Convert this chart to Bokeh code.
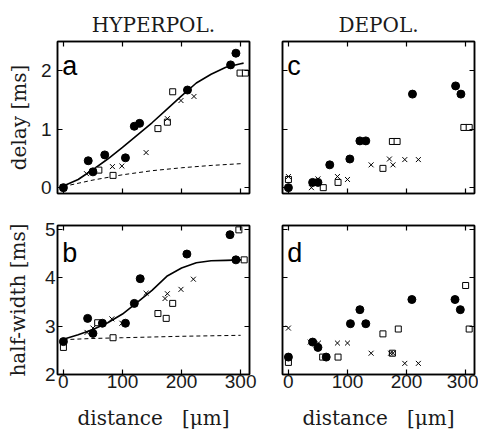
from bokeh.plotting import figure
from bokeh.models import FixedTicker, LinearAxis, Range1d, Label, CustomJSTickFormatter
from bokeh.layouts import column, row
from bokeh.embed import file_html
from bokeh.resources import INLINE

# ---------------- data ----------------
x_ticks = [0, 100, 200, 300]
delay_ticks = [0, 1, 2]
hw_ticks = [2, 3, 4, 5]

# panel a : delay, hyperpolarizing
a_dot_x = [0, 42, 50, 70, 105, 120, 129, 210, 283, 292]
a_dot_y = [0.0, 0.46, 0.27, 0.56, 0.51, 1.05, 1.10, 1.67, 2.10, 2.30]
a_cross_x = [39, 83, 99, 140, 176, 199, 221]
a_cross_y = [0.24, 0.36, 0.37, 0.60, 1.18, 1.49, 1.56]
a_sq_x = [0, 60, 84, 160, 176, 185, 299, 308]
a_sq_y = [0.0, 0.30, 0.21, 1.01, 1.12, 1.64, 1.96, 1.96]
a_fit_x = [0, 25, 50, 75, 100, 125, 150, 175, 200, 225, 250, 275, 300, 305]
a_fit_y = [0.03, 0.14, 0.31, 0.49, 0.69, 0.90, 1.11, 1.34, 1.57, 1.79, 1.94, 2.06, 2.12, 2.13]
a_pas_x = [0, 50, 100, 150, 200, 250, 300]
a_pas_y = [0.02, 0.13, 0.22, 0.29, 0.34, 0.38, 0.41]

# panel c : delay, depolarizing
c_dot_x = [0, 41, 50, 70, 104, 121, 131, 210, 283, 292]
c_dot_y = [0.0, 0.09, 0.09, 0.39, 0.49, 0.80, 0.80, 1.60, 1.74, 1.60]
c_cross_x = [0, 39, 50, 83, 100, 140, 171, 177, 197, 220]
c_cross_y = [0.19, 0.0, 0.15, 0.19, 0.14, 0.39, 0.49, 0.39, 0.48, 0.48]
c_sq_x = [0, 59, 84, 160, 176, 184, 297, 306]
c_sq_y = [0.14, 0.0, 0.09, 0.33, 0.79, 0.79, 1.03, 1.03]

# panel b : half-width, hyperpolarizing
b_dot_x = [0, 41, 50, 66, 105, 120, 130, 209, 282, 292]
b_dot_y = [2.68, 3.16, 2.85, 3.06, 3.06, 3.47, 3.98, 4.49, 4.89, 4.37]
b_cross_x = [40, 50, 82, 99, 140, 172, 176, 199, 220]
b_cross_y = [2.87, 2.96, 3.15, 3.06, 3.68, 3.57, 3.67, 3.76, 3.97]
b_sq_x = [0, 58, 84, 160, 174, 185, 297, 306]
b_sq_y = [2.56, 3.07, 2.76, 3.26, 3.16, 3.47, 4.99, 4.37]
b_fit_x = [0, 25, 50, 75, 100, 125, 150, 175, 200, 225, 250, 275, 300, 305]
b_fit_y = [2.73, 2.82, 2.93, 3.07, 3.25, 3.49, 3.74, 4.03, 4.20, 4.31, 4.35, 4.36, 4.37, 4.37]
b_pas_x = [0, 50, 100, 150, 200, 250, 300]
b_pas_y = [2.72, 2.745, 2.76, 2.775, 2.79, 2.80, 2.81]

# panel d : half-width, depolarizing
d_dot_x = [0, 41, 50, 64, 105, 121, 131, 209, 282, 291]
d_dot_y = [2.36, 2.67, 2.56, 2.36, 3.05, 3.34, 3.05, 3.55, 3.55, 3.34]
d_cross_x = [0, 37, 51, 83, 100, 140, 173, 177, 197, 220]
d_cross_y = [2.96, 2.67, 2.65, 2.65, 2.65, 2.44, 2.44, 2.44, 2.23, 2.23]
d_sq_x = [0, 58, 84, 160, 176, 186, 300, 306]
d_sq_y = [2.25, 2.36, 2.36, 2.84, 2.44, 2.94, 3.84, 2.94]

SERIF = "DejaVu Serif"
SANS = "Liberation Sans"
INK = "#1a1a1a"
XLABEL = "distance\u00a0\u00a0\u00a0[\u03bcm]"


def make_axis(ticks, labelled, standoff=0):
    ax = LinearAxis(ticker=FixedTicker(ticks=ticks))
    ax.major_tick_in = 5
    ax.major_tick_out = 0
    ax.minor_tick_in = 0
    ax.minor_tick_out = 0
    ax.axis_line_width = 1.5
    ax.axis_line_color = "black"
    ax.major_tick_line_width = 1.2
    ax.major_tick_line_color = "black"
    ax.major_label_standoff = standoff
    if labelled:
        ax.major_label_text_font = SANS
        ax.major_label_text_font_size = "19px"
        ax.major_label_text_color = INK
    else:
        ax.formatter = CustomJSTickFormatter(code="return ''")
        ax.major_label_text_font_size = "1px"
    return ax


def style_label(ax, label, standoff):
    ax.axis_label = label
    ax.axis_label_text_font = SERIF
    ax.axis_label_text_font_size = "20px"
    ax.axis_label_text_font_style = "normal"
    ax.axis_label_text_color = INK
    ax.axis_label_standoff = standoff


def panel(yr, yt, fh, borders, letter, letter_y, title=None, ylabel=None,
          ylabel_standoff=7, ytick_standoff=6, xlabel=None,
          left_lab=True, bottom_lab=True):
    bl, br, bt, bb = borders
    p = figure(width=bl + 192 + br, height=bt + fh + bb,
               x_range=Range1d(-10, 315), y_range=Range1d(*yr),
               x_axis_location=None, y_axis_location=None,
               output_backend="svg", toolbar_location=None,
               min_border_left=bl, min_border_right=br,
               min_border_top=bt, min_border_bottom=bb,
               background_fill_color="white", border_fill_color="white")
    p.grid.visible = False
    p.outline_line_color = "black"
    p.outline_line_width = 1.5

    left = make_axis(yt, left_lab, ytick_standoff if left_lab else 0)
    right = make_axis(yt, False)
    bottom = make_axis(x_ticks, bottom_lab, 0)
    top = make_axis(x_ticks, False)
    if ylabel:
        style_label(left, ylabel, ylabel_standoff)
    if xlabel:
        style_label(bottom, xlabel, 15)
    p.add_layout(left, "left")
    p.add_layout(right, "right")
    p.add_layout(bottom, "below")
    p.add_layout(top, "above")

    if title:
        p.title.text = title
        p.title.align = "center"
        p.title.text_font = SERIF
        p.title.text_font_size = "20px"
        p.title.text_font_style = "normal"
        p.title.text_color = INK
        p.title.standoff = 9
    p.add_layout(Label(x=-2, y=letter_y, text=letter, text_font=SANS,
                       text_font_size="27px", text_baseline="alphabetic",
                       text_color="black"))
    return p


def draw(p, dx, dy, cx, cy, sx, sy, fx=None, fy=None, px=None, py=None):
    if fx is not None:
        p.line(fx, fy, line_color="black", line_width=1.6)
        p.line(px, py, line_color="black", line_width=1, line_dash="4 3")
    p.scatter(sx, sy, marker="square", size=6, fill_color="white",
              line_color="black", line_width=1)
    p.scatter(cx, cy, marker="x", size=7, line_color="black", line_width=1)
    p.scatter(dx, dy, marker="circle", size=8, fill_color="black",
              line_color="black")


# page has no margin (Bokeh template): frames a/c 41..193 px, b/d 225..374 px,
# left column 57..249, right column 282..474
pa = panel((-0.1, 2.5), delay_ticks, 152, (57, 15, 41, 16), "a", 2.085,
           title="HYPERPOL.", ylabel="delay [ms]", ylabel_standoff=7,
           ytick_standoff=6, bottom_lab=False)
draw(pa, a_dot_x, a_dot_y, a_cross_x, a_cross_y, a_sq_x, a_sq_y,
     a_fit_x, a_fit_y, a_pas_x, a_pas_y)

pc = panel((-0.1, 2.5), delay_ticks, 152, (18, 4, 41, 16), "c", 2.085,
           title="DEPOL.", left_lab=False, bottom_lab=False)
draw(pc, c_dot_x, c_dot_y, c_cross_x, c_cross_y, c_sq_x, c_sq_y)

pb = panel((2, 5.08), hw_ticks, 149, (57, 15, 16, 61), "b", 4.52,
           ylabel="half-width [ms]", ylabel_standoff=12, ytick_standoff=2,
           xlabel=XLABEL)
draw(pb, b_dot_x, b_dot_y, b_cross_x, b_cross_y, b_sq_x, b_sq_y,
     b_fit_x, b_fit_y, b_pas_x, b_pas_y)

pd = panel((2, 5.08), hw_ticks, 149, (18, 4, 16, 61), "d", 4.52,
           xlabel=XLABEL, left_lab=False)
draw(pd, d_dot_x, d_dot_y, d_cross_x, d_cross_y, d_sq_x, d_sq_y)

layout = column(row(pa, pc), row(pb, pd))
open("out.html", "w").write(file_html(layout, INLINE))
